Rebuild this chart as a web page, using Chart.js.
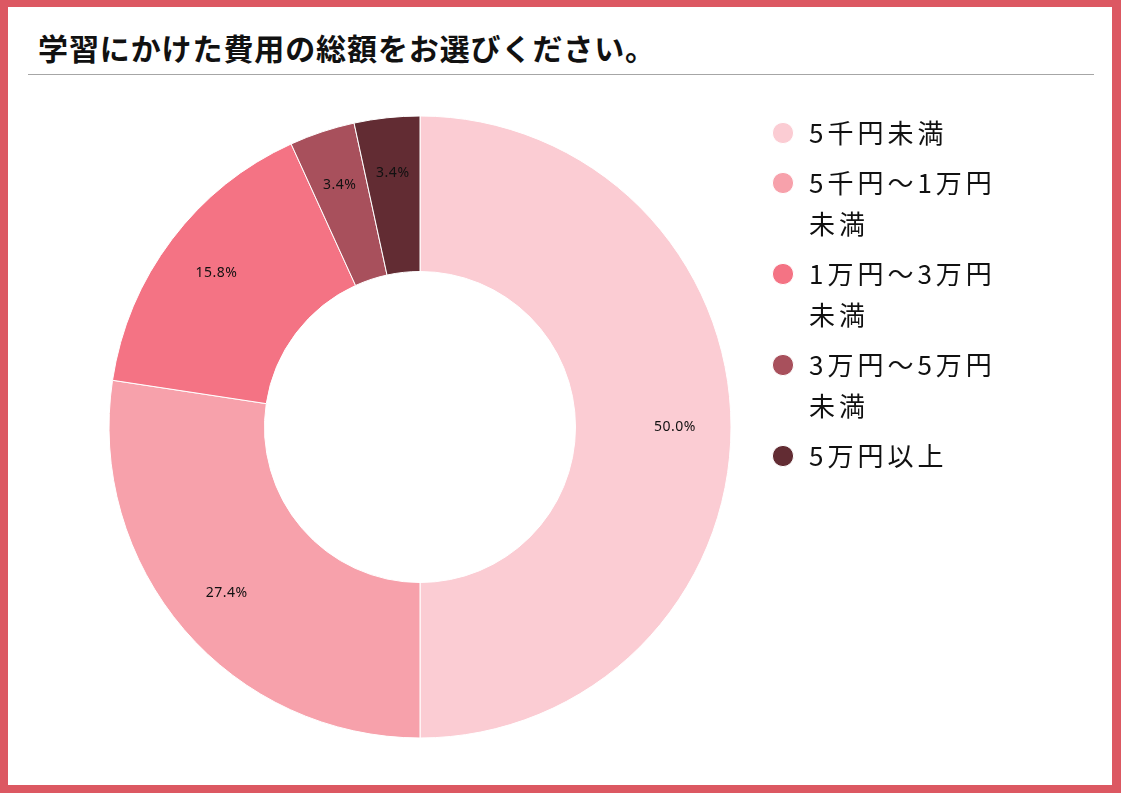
<!DOCTYPE html>
<html lang="ja">
<head>
<meta charset="utf-8">
<title>学習にかけた費用の総額</title>
<script src="https://cdn.jsdelivr.net/npm/chart.js@4.4.1/dist/chart.umd.min.js"></script>
<style>
  html, body { margin: 0; padding: 0; background: #fff; }
  #page { position: relative; width: 1121px; height: 793px; overflow: hidden; }
  #frame {
    position: absolute; left: 0; top: 0; width: 1121px; height: 793px;
    box-sizing: border-box; border-style: solid; border-color: #dc5862;
    border-width: 7px 9px 8px 8px; background: #fff;
  }
  #title {
    position: absolute; left: 38px; top: 32px; height: 30px; line-height: 30px;
    font-family: "Noto Sans CJK JP", sans-serif; font-weight: bold; font-size: 30px;
    letter-spacing: 0.9px; color: #111; white-space: nowrap;
  }
  #rule { position: absolute; left: 28px; top: 74px; width: 1066px; height: 1px; background: #a6a6a6; }
  #chartBox { position: absolute; left: 0; top: 0; width: 1121px; height: 793px; }
</style>
</head>
<body>
<div id="page">
  <div id="frame"></div>
  <div id="title">学習にかけた費用の総額をお選びください。</div>
  <div id="rule"></div>
  <div id="chartBox"><canvas id="costChart"></canvas></div>
</div>
<script>
const categories = [
  ['5千円未満'],
  ['5千円～1万円', '未満'],
  ['1万円～3万円', '未満'],
  ['3万円～5万円', '未満'],
  ['5万円以上']
];
const shares = [50.0, 27.4, 15.8, 3.4, 3.4];
const sliceColors = ['#fbccd3', '#f7a1ab', '#f47384', '#a8505c', '#622c33'];

// canvas letter spacing gets reset whenever the canvas is resized
const spacingPlugin = {
  id: 'spacing',
  beforeLayout(chart) { chart.ctx.letterSpacing = '4px'; },
  beforeDraw(chart) { chart.ctx.letterSpacing = '4px'; }
};

// percentage labels inside each ring segment
const sliceLabels = {
  id: 'sliceLabels',
  afterDatasetsDraw(chart) {
    const ctx = chart.ctx;
    const meta = chart.getDatasetMeta(0);
    ctx.save();
    ctx.letterSpacing = '0.5px';
    ctx.font = '14px "Noto Sans", sans-serif';
    ctx.fillStyle = '#111';
    ctx.textAlign = 'center';
    ctx.textBaseline = 'middle';
    meta.data.forEach((arc, i) => {
      const p = arc.getProps(['x', 'y', 'startAngle', 'endAngle', 'innerRadius', 'outerRadius'], true);
      const mid = (p.startAngle + p.endAngle) / 2;
      const r = p.innerRadius + (p.outerRadius - p.innerRadius) * 0.64;
      ctx.fillText(shares[i].toFixed(1) + '%', p.x + Math.cos(mid) * r, p.y + Math.sin(mid) * r);
    });
    ctx.restore();
  }
};

new Chart(document.getElementById('costChart'), {
  type: 'doughnut',
  data: {
    labels: categories,
    datasets: [{
      data: shares,
      backgroundColor: sliceColors,
      borderColor: '#ffffff',
      borderWidth: 1
    }]
  },
  options: {
    responsive: true,
    maintainAspectRatio: false,
    animation: false,
    cutout: '50%',
    radius: 311,
    layout: {
      padding: { left: 79, top: 111, right: 124, bottom: 50 }
    },
    plugins: {
      legend: {
        position: 'right',
        align: 'start',
        maxWidth: 236,
        labels: {
          usePointStyle: true,
          pointStyle: 'circle',
          boxWidth: 26,
          boxHeight: 15,
          padding: 9,
          color: '#111',
          font: {
            family: '"Noto Sans CJK JP", sans-serif',
            size: 26,
            lineHeight: 41 / 26
          }
        }
      },
      tooltip: { enabled: false }
    }
  },
  plugins: [spacingPlugin, sliceLabels]
});
</script>
</body>
</html>
